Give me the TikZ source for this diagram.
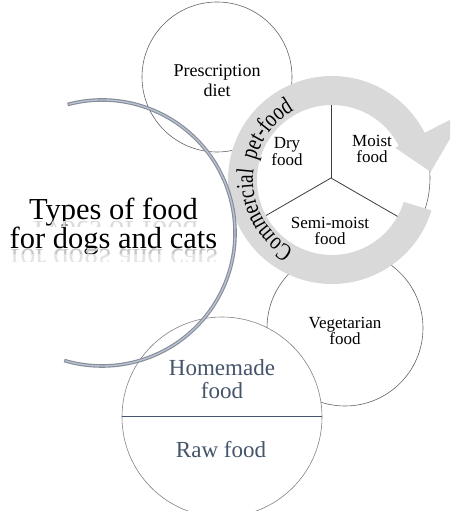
\documentclass[tikz,border=0pt]{standalone}
\usepackage{fontspec}
\setmainfont{Liberation Serif}
\newfontfamily\ringfont[FakeStretch=0.78]{Liberation Serif}
\usetikzlibrary{calc,decorations.text}
\definecolor{ringgray}{RGB}{217,217,217}
\definecolor{slate}{RGB}{68,84,106}
\definecolor{edgegray}{RGB}{100,100,100}
\definecolor{piegray}{RGB}{60,60,60}
\definecolor{arcout}{RGB}{135,140,150}
\definecolor{arcin}{RGB}{182,194,212}
\begin{document}
\begin{tikzpicture}[x=1pt,y=1pt,
  bubble/.style={circle, draw=edgegray, line width=0.6pt, fill=white, inner sep=0pt},
  lbl/.style={align=center, inner sep=0pt},
  fa/.style={font=\fontsize{17pt}{16.5pt}\selectfont},
  fb/.style={font=\fontsize{18pt}{19.5pt}\selectfont},
  fc/.style={font=\fontsize{23pt}{22.5pt}\selectfont, text=slate},
  ft/.style={font=\fontsize{30.5pt}{28pt}\selectfont},
  sector/.style={draw=piegray, line width=0.8pt}]
\useasboundingbox (0,0) rectangle (450,511);
\clip (0,0) rectangle (450,511);

% background circles
\node[bubble, minimum size=150pt] (presc) at (217,434) {};
\node[bubble, minimum size=156pt] (veg) at (345,183) {};
\node[bubble, minimum size=200pt, draw=edgegray!80] (home) at (222,94) {};
\draw[slate, line width=1pt] (home.west) -- (home.east);

% pie
\node[bubble, minimum size=198pt] (pie) at (331,333) {};
\draw[sector] (pie.center) -- (pie.90);
\draw[sector] (pie.center) -- (pie.210);
\draw[sector] (pie.center) -- (pie.330);

% circular arrow
\coordinate (rc) at (332,331);
\fill[ringgray] ($(rc)+(-17:104)$) arc[start angle=-17, end angle=-333, radius=104pt]
  -- ($(rc)+(27:150)$) -- ($(rc)+(4.7:99)$) -- ($(rc)+(27:71)$) -- ($(rc)+(27:75)$)
  arc[start angle=27, end angle=343, radius=75pt] -- cycle;
\path[decorate, decoration={text along path, text align=left,
  text={|\ringfont\fontsize{24.5pt}{24.5pt}\selectfont|Commercial{\ }{\ }pet-food}}]
  ($(rc)+(241:79)$) arc[start angle=241, end angle=95, radius=79pt];

% labels
\node[lbl, fb] (presct) at (217,430.5) {Prescription\\diet};
\node[lbl, fa] (vegt) at (345,180) {Vegetarian\\food};
\node[lbl, fc] (homet) at (222,132) {Homemade\\food};
\node[lbl, fc] (rawt) at (221,61) {Raw food};
\node[lbl, fa] (dryt) at (287,359.5) {Dry\\food};
\node[lbl, fa] (moistt) at (372,362) {Moist\\food};
\node[lbl, fa] (semit) at (330,280) {Semi-moist\\food};

% title arc
\coordinate (tc) at (102,278);
\draw[arcout, line width=3.6pt] ($(tc)+(105:133)$) arc[start angle=105, end angle=-106.5, radius=133pt];
\draw[arcin, line width=1.4pt] ($(tc)+(104.6:133)$) arc[start angle=104.6, end angle=-106.1, radius=133pt];

% title with faint reflection
\node[lbl, ft] (title) at (113.5,284.1) {Types of food\\for dogs and cats};
\begin{scope}
  \clip (0,256) rectangle (240,262);
  \node[ft, inner sep=0pt, anchor=base, yscale=-1, text=black!22] (refla) at (114,261) {for dogs and cats};
\end{scope}
\begin{scope}
  \clip (0,249) rectangle (240,256);
  \node[ft, inner sep=0pt, anchor=base, yscale=-1, text=black!11] (reflb) at (114,261) {for dogs and cats};
\end{scope}
\begin{scope}
  \clip (0,284) rectangle (240,289.5);
  \node[ft, inner sep=0pt, anchor=base, yscale=-1, text=black!14] (reflc) at (113.5,289.5) {Types of food};
\end{scope}
\end{tikzpicture}
\end{document}
